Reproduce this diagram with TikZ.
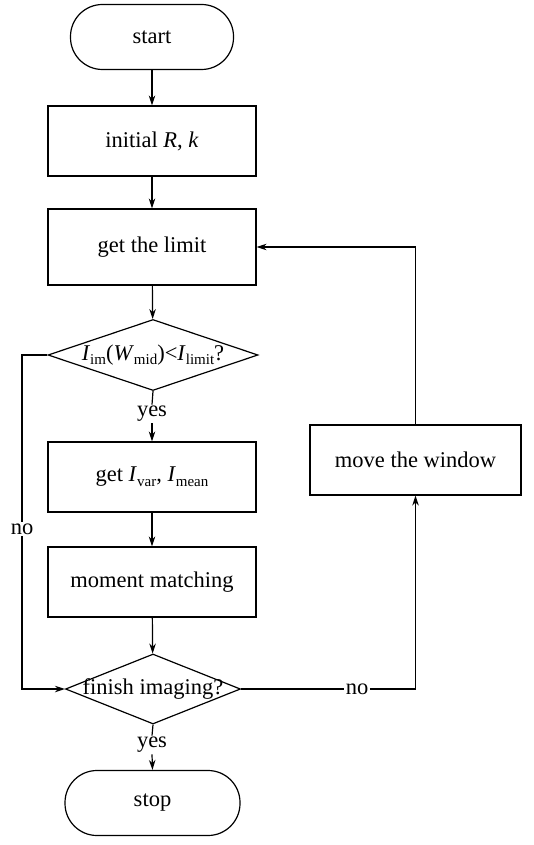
\documentclass[tikz,border=0pt]{standalone}
\usepackage{fontspec}
\setmainfont{Liberation Serif}
\usetikzlibrary{shapes.geometric,arrows.meta}
\newcommand{\mysub}[1]{\raisebox{-0.4ex}{\fontsize{15}{15}\selectfont #1}}
\begin{document}
\begin{tikzpicture}[x=1pt,y=-1pt,line width=1.2pt,
  txt/.style={font=\fontsize{22.5}{24}\selectfont},
  box/.style={txt,draw,rectangle,minimum width=208pt,minimum height=70pt,inner sep=0pt},
  term/.style={txt,draw,rectangle,rounded corners=32pt,minimum height=65pt,inner sep=0pt},
  dia/.style={draw,diamond,inner sep=0pt},
  lbl/.style={txt,inner sep=1pt},
  arr/.style={-{Stealth[length=10pt,width=6.5pt]}}]
\useasboundingbox (0,0) rectangle (534,845);
\node[term,minimum width=163pt] (start) at (152,37) {start};
\node[box] (init) at (152,141) {initial \textit{R}, \textit{k}};
\node[box,minimum height=76pt] (limit) at (152,247) {get the limit};
\node[dia,minimum width=210pt,minimum height=71pt] (d1) at (153,355) {};
\node[txt,inner sep=0pt] (d1t) at (153,355) {\textit{I}\mysub{im}(\textit{W}\mysub{mid})<\textit{I}\mysub{limit}?};
\node[lbl] (yes1) at (152,414) {yes};
\node[box] (var) at (152,477) {get \textit{I}\mysub{var}, \textit{I}\mysub{mean}};
\node[box] (mm) at (152,582) {moment matching};
\node[dia,minimum width=175pt,minimum height=70pt] (d2) at (153,689) {};
\node[txt,inner sep=0pt] (d2t) at (153,689) {finish imaging?};
\node[lbl] (yes2) at (152,745) {yes};
\node[term,minimum width=175pt] (stop) at (152.5,803) {stop};
\node[box,minimum width=211pt] (move) at (415.5,460) {move the window};
\node[lbl] (no1) at (22,529) {no};
\node[lbl] (no2) at (357,689) {no};
\draw[arr] (start) -- (init);
\draw[arr] (init) -- (limit);
\draw[arr] (limit) -- (d1);
\draw (d1.south) -- (yes1.north);
\draw[arr] (yes1.south) -- (var.north);
\draw[arr] (var) -- (mm);
\draw[arr] (mm) -- (d2);
\draw (d2.south) -- (yes2.north);
\draw[arr] (yes2.south) -- (stop.north);
\draw (d1.west) -| (no1.north);
\draw[arr] (no1.south) |- (d2.west);
\draw (d2.east) -- (no2.west);
\draw[arr] (no2.east) -| (move.south);
\draw[arr] (move.north) |- (limit.east);
\end{tikzpicture}
\end{document}
